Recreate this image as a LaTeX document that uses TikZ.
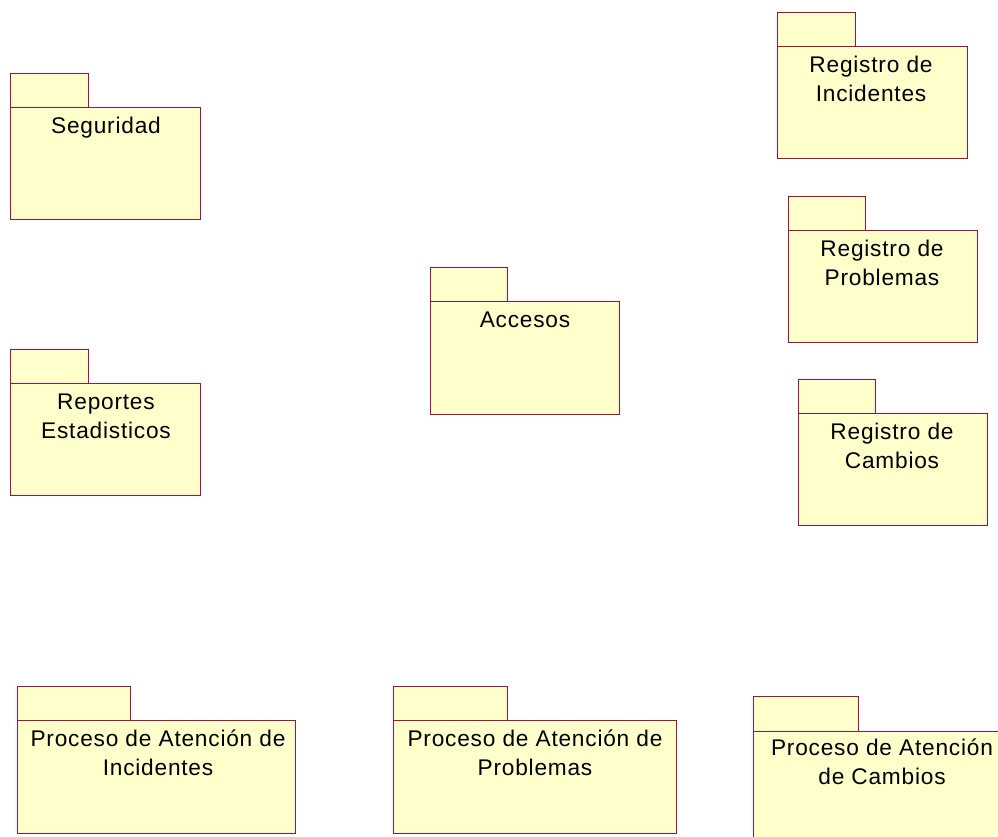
\documentclass[tikz,border=0pt]{standalone}
\usepackage{fontspec}
\setmainfont{Liberation Sans}[LetterSpace=3.5]
\definecolor{pkgfill}{RGB}{255,255,204}
\definecolor{pkgline}{RGB}{160,20,60}
\tikzset{
  pkg/.style={fill=pkgfill, draw=pkgline, line width=0.75pt},
  pkglabel/.style={anchor=base, align=center, inner sep=0pt,
    font=\fontsize{17pt}{21.75pt}\selectfont},
}
% Draws one package: tab (x1..tabx, ty..by), body (x1..x2, by..y2)
\newcommand{\umlpkg}[6]{%
  \path[pkg] (#1,#2) rectangle (#3,#4);
  \path[pkg] (#1,#4) rectangle (#5,#6);
}
\begin{document}
\begin{tikzpicture}[x=0.75pt, y=-0.75pt]
\useasboundingbox (0,0) rectangle (998,836);
\clip (0,0) rectangle (998,836);

% Seguridad
\umlpkg{10}{73}{88}{107}{200}{219}
\node[pkglabel] (seguridad) at (106,133) {Seguridad};

% Reportes Estadisticos (two-line labels are anchored on their last baseline)
\umlpkg{10}{349}{88}{383}{200}{495}
\node[pkglabel] (reportes) at (106,438) {Reportes\\Estadisticos};

% Accesos
\umlpkg{430}{267}{507}{301}{619}{414}
\node[pkglabel] (accesos) at (525,327) {Accesos};

% Registro de Incidentes
\umlpkg{777}{12}{855}{46}{967}{158}
\node[pkglabel] (regInc) at (871,101) {Registro de\\Incidentes};

% Registro de Problemas
\umlpkg{788}{196}{865}{230}{977}{342}
\node[pkglabel] (regProb) at (882,285) {Registro de\\Problemas};

% Registro de Cambios
\umlpkg{798}{379}{875}{413}{987}{525}
\node[pkglabel] (regCamb) at (892,468) {Registro de\\Cambios};

% Proceso de Atencion de Incidentes
\umlpkg{17}{686}{130}{720}{295}{833}
\node[pkglabel] (procInc) at (158,775) {Proceso de Atención de\\Incidentes};

% Proceso de Atencion de Problemas
\umlpkg{393}{686}{507}{720}{676}{833}
\node[pkglabel] (procProb) at (535,775) {Proceso de Atención de\\Problemas};

% Proceso de Atencion de Cambios (runs past the right and bottom edges)
\umlpkg{753}{696}{858}{731}{1040}{850}
\node[pkglabel] (procCamb) at (882,784) {Proceso de Atención\\de Cambios};
\end{tikzpicture}
\end{document}
